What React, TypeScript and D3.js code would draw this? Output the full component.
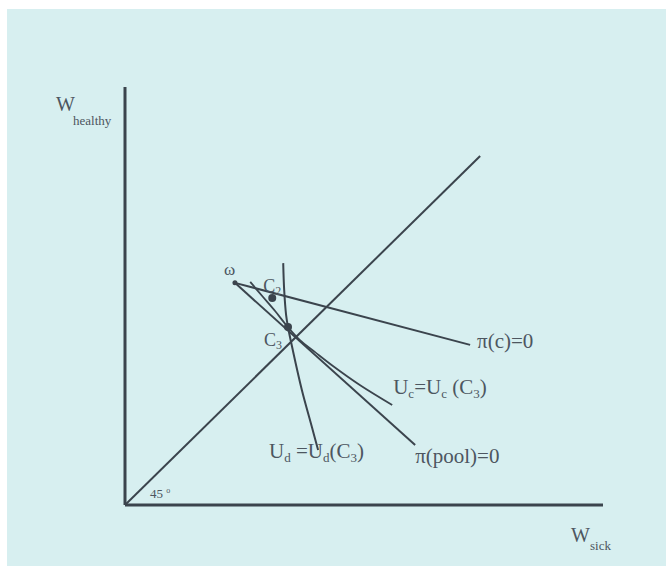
import React from 'react';
import * as d3 from 'd3';

// points in data units (W_sick, W_healthy)
const omega = [23.0, 47.3];
const c2 = [30.8, 44.1];
const c3 = [34.1, 37.9];
const piCompetitiveEnd = [72.2, 34.1];
const piPoolEnd = [60.7, 12.8];
const diagonalEnd = [74.3, 74.3];

// indifference curves through C3
const udCurve = [
  [33.1, 51.5], [33.3, 45.8], [33.7, 40.5], [34.1, 37.9],
  [35.1, 33.0], [37.0, 24.5], [39.1, 16.6], [40.4, 11.7],
];
const ucCurve = [
  [26.2, 47.5], [28.7, 44.5], [31.4, 41.3], [33.9, 38.1], [36.6, 35.1],
  [39.7, 32.6], [43.5, 29.6], [49.2, 25.5], [55.9, 21.3],
];

const W = 666;
const H = 566;
const ink = '#3b444d';
const textInk = '#4d5660';
const serif = '"Liberation Serif", "DejaVu Serif", serif';

const App = () => {
  // axes origin at (125,505)
  const x = d3.scaleLinear().domain([0, 100]).range([125, 603]);
  const y = d3.scaleLinear().domain([0, 89]).range([505, 87]);

  const line = d3
    .line<number[]>()
    .x((d) => x(d[0]))
    .y((d) => y(d[1]));
  const curve = d3
    .line<number[]>()
    .x((d) => x(d[0]))
    .y((d) => y(d[1]))
    .curve(d3.curveCatmullRom);

  const lbl = (px: number, py: number, size = 21) => ({
    x: px,
    y: py,
    fontSize: size,
    fill: textInk,
    fontFamily: serif,
  });

  const ucEnd = ucCurve[ucCurve.length - 1];
  const udEnd = udCurve[udCurve.length - 1];

  return (
    <>
      <style>{'body{margin:0;overflow:hidden}'}</style>
      <svg width={W} height={H} style={{ display: 'block' }}>
        <rect x={0} y={0} width={W} height={H} fill="#ffffff" />
        <rect x={7} y={9} width={W - 7} height={H - 9} fill="#d7eff0" />

        {/* axes */}
        <line x1={x(0)} y1={y(0)} x2={x(0)} y2={y(89)} stroke={ink} strokeWidth={3} />
        <line x1={x(0)} y1={y(0)} x2={x(100)} y2={y(0)} stroke={ink} strokeWidth={3} />

        {/* 45 degree line */}
        <path d={line([[0, 0], diagonalEnd]) ?? ''} stroke={ink} strokeWidth={2} fill="none" />

        {/* zero profit lines */}
        <path d={line([omega, piCompetitiveEnd]) ?? ''} stroke={ink} strokeWidth={2} fill="none" />
        <path d={line([omega, piPoolEnd]) ?? ''} stroke={ink} strokeWidth={2} fill="none" />

        {/* indifference curves */}
        <path d={curve(udCurve) ?? ''} stroke={ink} strokeWidth={2} fill="none" />
        <path d={curve(ucCurve) ?? ''} stroke={ink} strokeWidth={1.8} fill="none" />

        {/* points */}
        <circle cx={x(omega[0])} cy={y(omega[1])} r={2.5} fill={ink} />
        <circle cx={x(c2[0])} cy={y(c2[1])} r={4} fill={ink} />
        <circle cx={x(c3[0])} cy={y(c3[1])} r={4} fill={ink} />

        {/* axis titles */}
        <text {...lbl(56, 111, 20)}>W</text>
        <text {...lbl(73, 125, 13)}>healthy</text>
        <text {...lbl(571, 542, 20)}>W</text>
        <text {...lbl(590, 550, 13)}>sick</text>
        <text {...lbl(150, 498, 13)}>45 <tspan fontSize={8} dy={-5}>o</tspan></text>

        {/* point labels */}
        <text {...lbl(x(omega[0]) - 11, y(omega[1]) - 8, 17)}>ω</text>
        <text {...lbl(x(c2[0]) - 9, y(c2[1]) - 6, 18)}>
          C<tspan fontSize={12} dy={3}>2</tspan>
        </text>
        <text {...lbl(x(c3[0]) - 24, y(c3[1]) + 19, 18)}>
          C<tspan fontSize={12} dy={3}>3</tspan>
        </text>

        {/* line labels */}
        <text {...lbl(x(piCompetitiveEnd[0]) + 7, y(piCompetitiveEnd[1]) + 3)}>π(c)=0</text>
        <text {...lbl(x(piPoolEnd[0]), y(piPoolEnd[1]) + 18)}>π(pool)=0</text>
        <text {...lbl(x(ucEnd[0]) + 1, y(ucEnd[1]) - 11)}>
          U<tspan fontSize={13} dy={4}>c</tspan>
          <tspan dy={-4}>=U</tspan>
          <tspan fontSize={13} dy={4}>c</tspan>
          <tspan dy={-4}> (C</tspan>
          <tspan fontSize={13} dy={4}>3</tspan>
          <tspan dy={-4}>)</tspan>
        </text>
        <text {...lbl(x(udEnd[0]) - 49, y(udEnd[1]) + 8)}>
          U<tspan fontSize={13} dy={4}>d</tspan>
          <tspan dy={-4}> =U</tspan>
          <tspan fontSize={13} dy={4}>d</tspan>
          <tspan dy={-4}>(C</tspan>
          <tspan fontSize={13} dy={4}>3</tspan>
          <tspan dy={-4}>)</tspan>
        </text>
      </svg>
    </>
  );
};

export default App;
